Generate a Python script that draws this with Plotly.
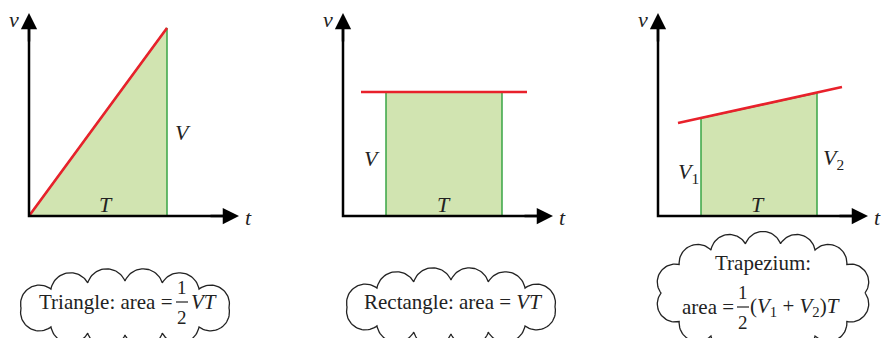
import numpy as np
import plotly.graph_objects as go

# panel data, in drawing units measured from each panel's origin
tri_t = [0, 1.38, 1.38, 0]
tri_v = [0, 1.88, 0, 0]
tri_red_t = [0, 1.38]
tri_red_v = [0, 1.88]

rect_t = [0.43, 0.43, 1.59, 1.59, 0.43]
rect_v = [0, 1.24, 1.24, 0, 0]
rect_red_t = [0.18, 1.84]
rect_red_v = [1.24, 1.24]

trap_t = [0.43, 0.43, 1.59, 1.59, 0.43]
trap_v = [0, 0.98, 1.23, 0, 0]
trap_red_t = [0.20, 1.84]
trap_red_v = [0.93, 1.29]

axis_t_end = 2.10
axis_v_end = 2.03

RED = "#e8212b"
GREEN_LINE = "#3aa546"
GREEN_FILL = "#d1e4b1"
INK = "#222222"
SERIF = "Liberation Serif"

fig = go.Figure()

x_range = [-0.25, 2.24]
doms = [(4, 253), (318, 567), (633, 882)]
for i, (a, b) in enumerate(doms):
    sfx = "" if i == 0 else str(i + 1)
    fig.layout["xaxis" + sfx] = dict(domain=[a / 882, b / 882], range=x_range,
                                      visible=False, anchor="y" + sfx)
    fig.layout["yaxis" + sfx] = dict(domain=[0, 1], range=[-1.22, 2.16],
                                      visible=False, anchor="x" + sfx)


def refs(idx):
    if idx == 0:
        return "x", "y"
    return f"x{idx + 1}", f"y{idx + 1}"


def label(x, y, text, idx, size=22, anchor="center"):
    xa, ya = refs(idx)
    fig.add_annotation(x=x, y=y, xref=xa, yref=ya, text=text, showarrow=False,
                       xanchor=anchor, font=dict(family=SERIF, size=size, color=INK))


def panel(t, v, red_t, red_v, t_label_x, idx):
    xa, ya = refs(idx)
    fig.add_trace(go.Scatter(x=t, y=v, fill="toself", fillcolor=GREEN_FILL,
                             mode="lines", line=dict(color=GREEN_LINE, width=1.5),
                             xaxis=xa, yaxis=ya, hoverinfo="skip"))
    fig.add_trace(go.Scatter(x=red_t, y=red_v, mode="lines",
                             line=dict(color=RED, width=2.6),
                             xaxis=xa, yaxis=ya, hoverinfo="skip"))
    fig.add_trace(go.Scatter(x=[0, 0, axis_t_end - 0.1], y=[axis_v_end - 0.1, 0, 0],
                             mode="lines", line=dict(color="black", width=2.5),
                             xaxis=xa, yaxis=ya, hoverinfo="skip"))
    for (tx, ty, sx, sy) in [(0, axis_v_end, 0, axis_v_end - 0.3),
                             (axis_t_end, 0, axis_t_end - 0.3, 0)]:
        fig.add_annotation(x=tx, y=ty, ax=sx, ay=sy, xref=xa, yref=ya,
                           axref=xa, ayref=ya, text="", showarrow=True,
                           arrowhead=2, arrowsize=1.3, arrowwidth=2.5,
                           arrowcolor="black")
    label(-0.15, 1.97, "<i>v</i>", idx)
    label(2.19, -0.01, "<i>t</i>", idx)
    label(t_label_x, 0.12, "<i>T</i>", idx)


panel(tri_t, tri_v, tri_red_t, tri_red_v, 0.77, 0)
panel(rect_t, rect_v, rect_red_t, rect_red_v, 1.01, 1)
panel(trap_t, trap_v, trap_red_t, trap_red_v, 1.00, 2)

label(1.54, 0.84, "<i>V</i>", 0)
label(0.29, 0.58, "<i>V</i>", 1)
label(0.30, 0.43, "<i>V</i><sub>1</sub>", 2)
label(1.75, 0.57, "<i>V</i><sub>2</sub>", 2)


def cloud(cx, cy, rx, ry, n, idx):
    # scalloped outline: circular arcs bulging out between points on an ellipse
    xa, ya = refs(idx)
    th = np.linspace(0, 2 * np.pi, 2000)
    ex, ey = cx + rx * np.cos(th), cy + ry * np.sin(th)
    s = np.concatenate([[0], np.cumsum(np.hypot(np.diff(ex), np.diff(ey)))])
    tg = np.linspace(0, s[-1], n + 1)
    px, py = np.interp(tg, s, ex), np.interp(tg, s, ey)
    xs, ys = [], []
    half = np.radians(70)
    for k in range(n):
        dx, dy = px[k + 1] - px[k], py[k + 1] - py[k]
        L = np.hypot(dx, dy)
        nx, ny = dy / L, -dx / L
        r = (L / 2) / np.sin(half)
        mx, my = (px[k] + px[k + 1]) / 2, (py[k] + py[k + 1]) / 2
        ccx, ccy = mx - nx * r * np.cos(half), my - ny * r * np.cos(half)
        a0 = np.arctan2(py[k] - ccy, px[k] - ccx)
        a1 = np.arctan2(py[k + 1] - ccy, px[k + 1] - ccx)
        if a1 < a0:
            a1 += 2 * np.pi
        aa = np.linspace(a0, a1, 30)
        xs.extend(ccx + r * np.cos(aa))
        ys.extend(ccy + r * np.sin(aa))
    fig.add_trace(go.Scatter(x=xs, y=ys, mode="lines",
                             line=dict(color=INK, width=1.3),
                             xaxis=xa, yaxis=ya, hoverinfo="skip"))


cloud(0.96, -0.92, 1.04, 0.27, 12, 0)
cloud(1.08, -0.91, 1.04, 0.27, 12, 1)
cloud(1.05, -0.77, 1.02, 0.50, 14, 2)


def fraction(x, y, idx):
    xa, ya = refs(idx)
    label(x, y + 0.15, "1", idx, size=19)
    label(x, y - 0.15, "2", idx, size=19)
    fig.add_shape(type="line", x0=x - 0.06, x1=x + 0.06, y0=y, y1=y,
                  xref=xa, yref=ya, line=dict(color=INK, width=1.2))


label(1.46, -0.86, "Triangle: area =", 0, size=21, anchor="right")
fraction(1.53, -0.86, 0)
label(1.60, -0.86, "<i>VT</i>", 0, size=21, anchor="left")

label(1.10, -0.86, "Rectangle: area = <i>VT</i>", 1, size=21)

label(1.05, -0.47, "Trapezium:", 2, size=21)
label(0.78, -0.91, "area =", 2, size=21, anchor="right")
fraction(0.85, -0.91, 2)
label(0.90, -0.91, "(<i>V</i><sub>1</sub> + <i>V</i><sub>2</sub>)<i>T</i>", 2,
      size=21, anchor="left")

fig.update_layout(width=882, height=338, margin=dict(l=0, r=0, t=0, b=0),
                  paper_bgcolor="white", plot_bgcolor="white", showlegend=False)

fig.write_html("out.html", config={"displayModeBar": False},
               post_script="document.body.style.margin='0';"
                           "document.body.style.overflow='hidden';")
